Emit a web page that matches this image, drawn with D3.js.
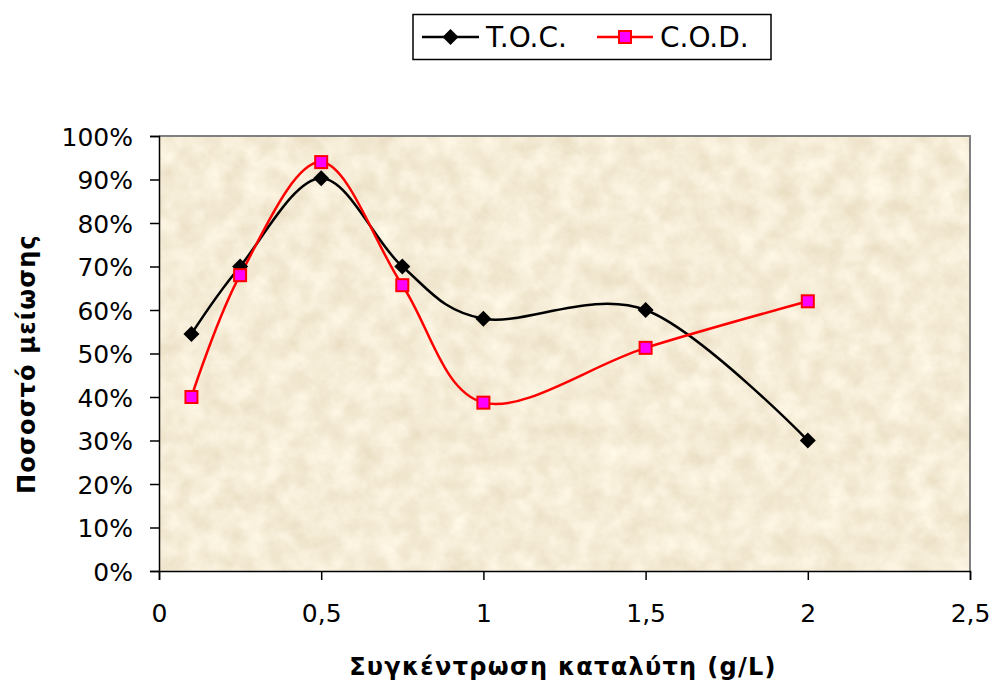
<!DOCTYPE html>
<html>
<head>
<meta charset="utf-8">
<script src="https://cdn.jsdelivr.net/npm/d3@7/dist/d3.min.js"></script>
<style>
  html, body { margin: 0; padding: 0; background: #ffffff; }
  svg { display: block; }
  text { font-family: "DejaVu Sans", Verdana, sans-serif; fill: #000; }
</style>
</head>
<body>
<svg id="chart" width="994" height="683"></svg>
<script>
// Catalyst concentration (g/L)
const concentration = [0.1, 0.25, 0.5, 0.75, 1, 1.5, 2];
// Reduction percentage (fraction)
const tocValues = [0.545, 0.70, 0.903, 0.70, 0.58, 0.60, 0.30];
const codValues = [0.40, 0.68, 0.94, 0.657, 0.387, 0.513, 0.62];
const seriesNames = ["T.O.C.", "C.O.D."];
const xTicks = [0, 0.5, 1, 1.5, 2, 2.5];
const yTicks = [0, 0.1, 0.2, 0.3, 0.4, 0.5, 0.6, 0.7, 0.8, 0.9, 1.0];
const xTitle = "Συγκέντρωση καταλύτη (g/L)";
const yTitle = "Ποσοστό μείωσης";

const svg = d3.select("#chart");
const plot = { left: 159, top: 136, right: 970, bottom: 571 };

const x = d3.scaleLinear().domain([0, 2.5]).range([plot.left, plot.right]);
const y = d3.scaleLinear().domain([0, 1]).range([plot.bottom, plot.top]);

// Parchment texture for the plot background
const defs = svg.append("defs");
const filt = defs.append("filter").attr("id", "parchment")
  .attr("x", 0).attr("y", 0).attr("width", 1).attr("height", 1);
filt.append("feTurbulence").attr("type", "fractalNoise")
  .attr("baseFrequency", "0.045").attr("numOctaves", 5).attr("seed", 7).attr("result", "n");
filt.append("feColorMatrix").attr("type", "matrix")
  .attr("values", "0.22 0 0 0 0.807  0.27 0 0 0 0.708  0.32 0 0 0 0.52  0 0 0 0 1");
defs.append("clipPath").attr("id", "plotClip").append("rect")
  .attr("x", plot.left).attr("y", plot.top)
  .attr("width", plot.right - plot.left).attr("height", plot.bottom - plot.top);

svg.append("rect")
  .attr("x", plot.left).attr("y", plot.top)
  .attr("width", plot.right - plot.left).attr("height", plot.bottom - plot.top)
  .attr("fill", "#ebd8ae")
  .attr("filter", "url(#parchment)");

// Gray frame on top and right
svg.append("path")
  .attr("d", `M${plot.left},${plot.top}H${plot.right}V${plot.bottom}`)
  .attr("fill", "none").attr("stroke", "#808080").attr("stroke-width", 2);

// Axes
const yAxis = d3.axisLeft(y).tickValues(yTicks).tickSize(9).tickPadding(17)
  .tickFormat(d => Math.round(d * 100) + "%");
const gy = svg.append("g").attr("transform", `translate(${plot.left},0)`).call(yAxis);
gy.selectAll("text").style("font-size", "25px").attr("dy", "0.36em");

const xAxis = d3.axisBottom(x).tickValues(xTicks).tickSize(9).tickPadding(24)
  .tickFormat(d => String(d).replace(".", ","));
const gx = svg.append("g").attr("transform", `translate(0,${plot.bottom})`).call(xAxis);
gx.selectAll("text").style("font-size", "25px");

[gx, gy].forEach(g => {
  g.select(".domain").attr("stroke", "#000").attr("stroke-width", 1.5);
  g.selectAll(".tick line").attr("stroke", "#000").attr("stroke-width", 1.5);
  g.selectAll("text").style("font-family", "'DejaVu Sans', Verdana, sans-serif");
});

// Axis titles
svg.append("text").attr("x", 563).attr("y", 675).attr("text-anchor", "middle")
  .style("font-size", "24px").style("font-weight", "bold").style("letter-spacing", "1.3px")
  .text(xTitle);
svg.append("text").attr("transform", "translate(35,364) rotate(-90)")
  .attr("text-anchor", "middle")
  .style("font-size", "24px").style("font-weight", "bold").style("letter-spacing", "1.2px")
  .text(yTitle);

// Series lines (smoothed)
const line = d3.line().x(d => x(d[0])).y(d => y(d[1])).curve(d3.curveCardinal.tension(0));
const toc = concentration.map((c, i) => [c, tocValues[i]]);
const cod = concentration.map((c, i) => [c, codValues[i]]);

const gLines = svg.append("g").attr("clip-path", "url(#plotClip)");
gLines.append("path").datum(toc).attr("d", line)
  .attr("fill", "none").attr("stroke", "#000").attr("stroke-width", 2.5);
gLines.append("path").datum(cod).attr("d", line)
  .attr("fill", "none").attr("stroke", "#ff0000").attr("stroke-width", 2.5);

const diamond = (cx, cy, r) => `M${cx},${cy - r}L${cx + r},${cy}L${cx},${cy + r}L${cx - r},${cy}Z`;

svg.append("g").selectAll("path").data(toc).join("path")
  .attr("d", d => diamond(x(d[0]), y(d[1]), 8))
  .attr("fill", "#000");

svg.append("g").selectAll("rect").data(cod).join("rect")
  .attr("x", d => x(d[0]) - 6).attr("y", d => y(d[1]) - 6)
  .attr("width", 12).attr("height", 12)
  .attr("fill", "#ff00ff").attr("stroke", "#ff0000").attr("stroke-width", 2);

// Legend
const lg = svg.append("g");
lg.append("rect").attr("x", 413).attr("y", 14.5).attr("width", 358).attr("height", 45)
  .attr("fill", "#fff").attr("stroke", "#000").attr("stroke-width", 1.5);
lg.append("line").attr("x1", 422).attr("x2", 479).attr("y1", 37).attr("y2", 37)
  .attr("stroke", "#000").attr("stroke-width", 2.5);
lg.append("path").attr("d", diamond(450.5, 37, 8)).attr("fill", "#000");
lg.append("text").attr("x", 486).attr("y", 47).style("font-size", "28px").text(seriesNames[0]);
lg.append("line").attr("x1", 597).attr("x2", 653).attr("y1", 37).attr("y2", 37)
  .attr("stroke", "#ff0000").attr("stroke-width", 2.5);
lg.append("rect").attr("x", 619).attr("y", 31).attr("width", 12).attr("height", 12)
  .attr("fill", "#ff00ff").attr("stroke", "#ff0000").attr("stroke-width", 2);
lg.append("text").attr("x", 660).attr("y", 47).style("font-size", "28px").text(seriesNames[1]);
</script>
</body>
</html>
